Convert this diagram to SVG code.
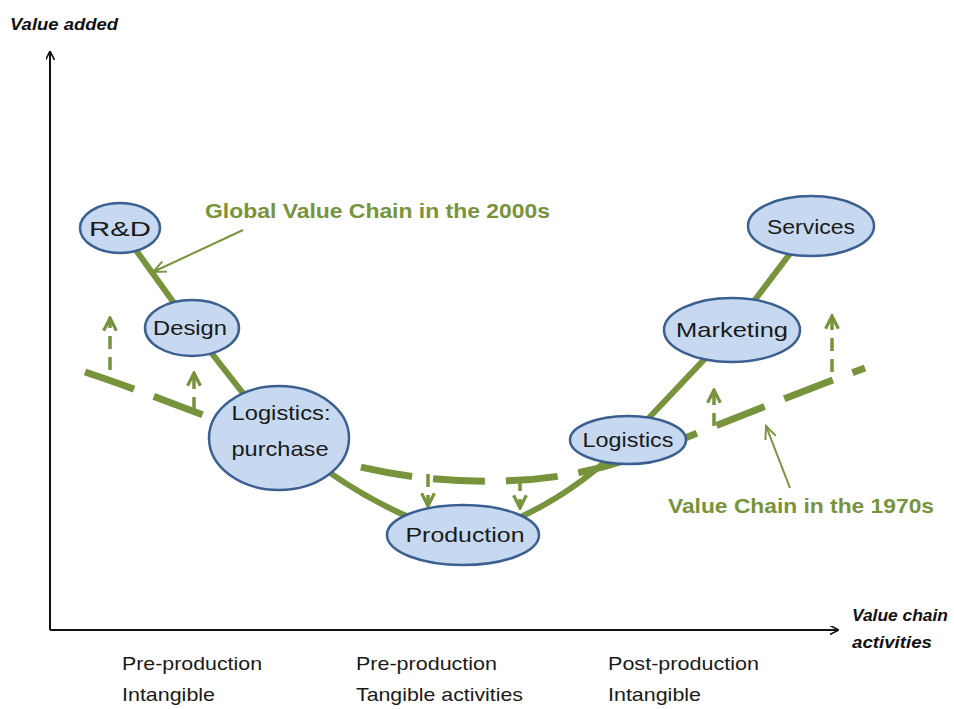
<svg xmlns="http://www.w3.org/2000/svg" width="954" height="709" viewBox="0 0 954 709">
<defs>
<style>
.node ellipse{fill:#c6d9f1;stroke:#3b6090;stroke-width:2.5}
.lbl{font-family:"Liberation Sans",Arial,sans-serif;font-size:21px;fill:#1a1a1a;text-anchor:middle}
.gl{font-family:"Liberation Sans",Arial,sans-serif;font-size:21px;font-weight:bold;fill:#77933c}
.ax{font-family:"Liberation Sans",Arial,sans-serif;font-size:17px;font-weight:bold;font-style:italic;fill:#111}
.bt{font-family:"Liberation Sans",Arial,sans-serif;font-size:19px;fill:#1a1a1a}
.solid{fill:none;stroke:#77933c;stroke-width:6}
.dash{fill:none;stroke:#77933c;stroke-width:7;stroke-dasharray:52 21}
.darr{fill:none;stroke:#77933c;stroke-width:3.5;stroke-dasharray:13 8}
.thin{fill:none;stroke:#77933c;stroke-width:2}
</style>
<marker id="ah" viewBox="0 0 10 10" refX="9" refY="5" markerWidth="9" markerHeight="9" markerUnits="userSpaceOnUse" orient="auto">
<path d="M0,0 L10,5 L0,10" fill="none" stroke="#111" stroke-width="1.8"/>
</marker>
<marker id="gh" viewBox="0 0 10 10" refX="9" refY="5" markerWidth="16" markerHeight="16" markerUnits="userSpaceOnUse" orient="auto">
<path d="M1,1 L9,5 L1,9" fill="none" stroke="#77933c" stroke-width="2"/>
</marker>
<marker id="th" viewBox="0 0 10 10" refX="9" refY="5" markerWidth="16" markerHeight="16" markerUnits="userSpaceOnUse" orient="auto">
<path d="M1,1.5 L9,5 L1,8.5" fill="none" stroke="#77933c" stroke-width="1.2"/>
</marker>
</defs>
<rect width="954" height="709" fill="#fff"/>
<g id="axes">
<line x1="50" y1="630" x2="50" y2="52" stroke="#111" stroke-width="2" marker-end="url(#ah)"/>
<line x1="50" y1="630" x2="838" y2="630" stroke="#111" stroke-width="2" marker-end="url(#ah)"/>
<text class="ax" x="10" y="30" textLength="108" lengthAdjust="spacingAndGlyphs">Value added</text>
<text class="ax" x="852" y="621" textLength="96" lengthAdjust="spacingAndGlyphs">Value chain</text>
<text class="ax" x="852" y="648" textLength="80" lengthAdjust="spacingAndGlyphs">activities</text>
</g>
<g id="connectors">
<path class="dash" d="M85,372 C170,400 260,440 340,462 C400,478 450,482 500,481 C560,480 610,468 660,448 C730,420 800,392 865,368"/>
<path class="solid" d="M120,228 L192,328 L278,438"/>
<path class="solid" d="M300,450 Q360,500 440,530"/>
<path class="solid" d="M490,530 Q570,500 628,440 L732,330 L811,226"/>
<line class="darr" x1="110" y1="370" x2="110" y2="318" marker-end="url(#gh)"/>
<line class="darr" x1="194" y1="410" x2="194" y2="373" marker-end="url(#gh)"/>
<line class="darr" x1="428" y1="474" x2="428" y2="506" marker-end="url(#gh)"/>
<line class="darr" x1="520" y1="478" x2="520" y2="508" marker-end="url(#gh)"/>
<line class="darr" x1="714" y1="426" x2="714" y2="390" marker-end="url(#gh)"/>
<line class="darr" x1="832" y1="372" x2="832" y2="316" marker-end="url(#gh)"/>
<line class="thin" x1="243" y1="230" x2="153" y2="272" marker-end="url(#th)"/>
<line class="thin" x1="790" y1="488" x2="766" y2="426" marker-end="url(#th)"/>
</g>
<g id="n-rd" class="node"><ellipse cx="120" cy="228" rx="40" ry="25"/><text class="lbl" x="120" y="236" textLength="62" lengthAdjust="spacingAndGlyphs">R&amp;D</text></g>
<g id="n-design" class="node"><ellipse cx="192" cy="328" rx="47" ry="28"/><text class="lbl" x="190" y="335" textLength="74" lengthAdjust="spacingAndGlyphs">Design</text></g>
<g id="n-logp" class="node"><ellipse cx="279" cy="438" rx="70" ry="52"/><text class="lbl" x="281" y="420" textLength="99" lengthAdjust="spacingAndGlyphs">Logistics:</text><text class="lbl" x="280" y="456" textLength="97" lengthAdjust="spacingAndGlyphs">purchase</text></g>
<g id="n-prod" class="node"><ellipse cx="463" cy="535" rx="76" ry="30"/><text class="lbl" x="465" y="542" textLength="119" lengthAdjust="spacingAndGlyphs">Production</text></g>
<g id="n-logs" class="node"><ellipse cx="628" cy="440" rx="58" ry="24"/><text class="lbl" x="628" y="447" textLength="91" lengthAdjust="spacingAndGlyphs">Logistics</text></g>
<g id="n-mkt" class="node"><ellipse cx="732" cy="330" rx="68" ry="32"/><text class="lbl" x="732" y="337" textLength="112" lengthAdjust="spacingAndGlyphs">Marketing</text></g>
<g id="n-svc" class="node"><ellipse cx="811" cy="226" rx="63" ry="30"/><text class="lbl" x="811" y="234" textLength="88" lengthAdjust="spacingAndGlyphs">Services</text></g>
<g id="labels">
<text class="gl" x="205" y="218" textLength="345" lengthAdjust="spacingAndGlyphs">Global Value Chain in the 2000s</text>
<text class="gl" x="668" y="513" textLength="266" lengthAdjust="spacingAndGlyphs">Value Chain in the 1970s</text>
<text class="bt" x="122" y="670" textLength="140" lengthAdjust="spacingAndGlyphs">Pre-production</text>
<text class="bt" x="122" y="701" textLength="93" lengthAdjust="spacingAndGlyphs">Intangible</text>
<text class="bt" x="356" y="670" textLength="141" lengthAdjust="spacingAndGlyphs">Pre-production</text>
<text class="bt" x="356" y="701" textLength="167" lengthAdjust="spacingAndGlyphs">Tangible activities</text>
<text class="bt" x="608" y="670" textLength="151" lengthAdjust="spacingAndGlyphs">Post-production</text>
<text class="bt" x="608" y="701" textLength="93" lengthAdjust="spacingAndGlyphs">Intangible</text>
</g>
</svg>
